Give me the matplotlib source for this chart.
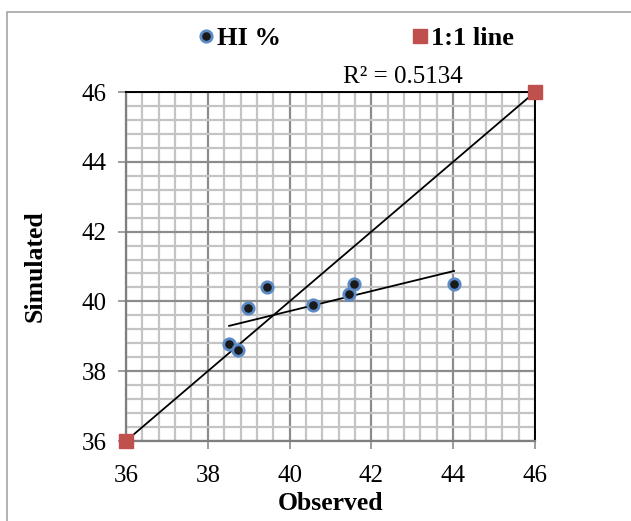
import matplotlib.pyplot as plt
import numpy as np
from matplotlib.patches import Rectangle

# observed vs simulated harvest index
observed = [38.52, 38.74, 38.98, 39.45, 40.57, 41.45, 41.57, 44.02]
simulated = [38.78, 38.61, 39.81, 40.41, 39.90, 40.21, 40.50, 40.50]
one_to_one = [36, 46]
ticks = [36, 38, 40, 42, 44, 46]

plt.rcParams['font.family'] = ['Liberation Serif', 'DejaVu Serif']

fig = plt.figure(figsize=(6.31, 5.21), dpi=100)
ax = fig.add_axes([126 / 631, 80 / 521, 409 / 631, 349 / 521])

# outer chart border (cropped at right and bottom)
fig.patches.append(Rectangle((7 / 631, -0.05), 1.1, (521 - 12) / 521 + 0.05,
                             transform=fig.transFigure, fill=False,
                             edgecolor='#a6a6a6', linewidth=1.2))

ax.set_xlim(36, 46)
ax.set_ylim(36, 46)
ax.set_xticks(ticks)
ax.set_yticks(ticks)
ax.set_xticks(np.arange(36, 46.01, 0.4), minor=True)
ax.set_yticks(np.arange(36, 46.01, 0.4), minor=True)
ax.grid(which='minor', color='#c4c4c4', linewidth=1.6)
ax.grid(which='major', color='#8c8c8c', linewidth=1.6)
ax.set_axisbelow(True)

ax.tick_params(which='minor', length=0)
ax.tick_params(which='major', labelsize=18, length=6, width=1.2, color='#8c8c8c')
ax.tick_params(axis='x', pad=11)
ax.tick_params(axis='y', pad=8)
for s in ['left', 'bottom']:
    ax.spines[s].set_color('#7f7f7f')
    ax.spines[s].set_linewidth(1.6)
for s in ['top', 'right']:
    ax.spines[s].set_color('black')
    ax.spines[s].set_linewidth(1.4)

# 1:1 line
ax.plot(one_to_one, one_to_one, color='black', linewidth=1.3, zorder=3)
ax.plot(one_to_one, one_to_one, linestyle='none', marker='s', markersize=10,
        color='#c0504d', label='1:1 line', zorder=4, clip_on=False)

# linear trendline
m, b = np.polyfit(observed, simulated, 1)
xs = np.array([min(observed), max(observed)])
ax.plot(xs, m * xs + b, color='black', linewidth=1.3, zorder=3)

ax.plot(observed, simulated, linestyle='none', marker='o', markersize=8.2,
        markerfacecolor='#1a1a1a', markeredgecolor='#5b8ac6', markeredgewidth=2.0,
        label='HI %', zorder=5)

fig.text(403 / 631, 1 - 77 / 521, 'R² = 0.5134', fontsize=18, ha='center', va='center')

handles, labels = ax.get_legend_handles_labels()
fig.legend(handles[::-1], labels[::-1], loc='center', bbox_to_anchor=(356 / 631, 1 - 38 / 521),
           ncol=2, frameon=False, prop={'weight': 'bold', 'size': 19},
           handlelength=0.6, handletextpad=0.1, columnspacing=5.0)

ax.set_xlabel('Observed', fontsize=18.5, fontweight='bold', labelpad=4)
ax.set_ylabel('Simulated', fontsize=18.5, fontweight='bold', labelpad=25)

fig.savefig('out.png', dpi=100)
